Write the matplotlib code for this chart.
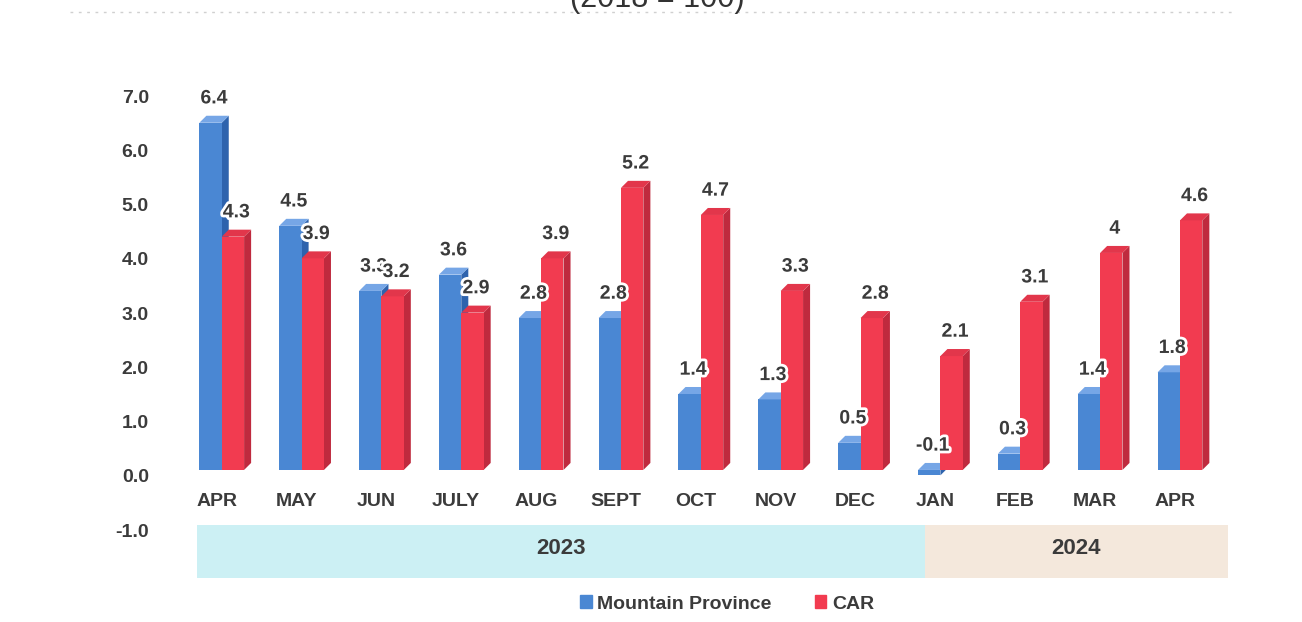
import matplotlib
matplotlib.use("Agg")
import matplotlib.pyplot as plt
import numpy as np
from matplotlib.patches import Polygon, Rectangle, Patch
from matplotlib.lines import Line2D
from matplotlib.transforms import ScaledTranslation
import matplotlib.patheffects as pe

plt.rcParams['font.family'] = ['Liberation Sans', 'DejaVu Sans']

months = ["APR", "MAY", "JUN", "JULY", "AUG", "SEPT", "OCT", "NOV", "DEC",
          "JAN", "FEB", "MAR", "APR"]
mountain = [6.4, 4.5, 3.3, 3.6, 2.8, 2.8, 1.4, 1.3, 0.5, -0.1, 0.3, 1.4, 1.8]
car = [4.3, 3.9, 3.2, 2.9, 3.9, 5.2, 4.7, 3.3, 2.8, 2.1, 3.1, 4.0, 4.6]
car_labels = ["4.3", "3.9", "3.2", "2.9", "3.9", "5.2", "4.7", "3.3", "2.8",
              "2.1", "3.1", "4", "4.6"]
years = ["2023", "2024"]
yticks = [-1.0, 0.0, 1.0, 2.0, 3.0, 4.0, 5.0, 6.0, 7.0]

TXT = "#3b3b3b"
BLUE = ("#4a87d3", "#76a6e6", "#2e63ad")   # front, top, side
RED = ("#f23b50", "#e2364b", "#bf2a3e")

fig = plt.figure(figsize=(13.02, 6.22), dpi=100)
ax = fig.add_axes([0.1335, 0.0613, 0.8157, 0.8373])
ax.set_xlim(-0.6, 12.7)
ax.set_ylim(-2.1, 7.5)
for s in ax.spines.values():
    s.set_visible(False)
ax.set_xticks([])

x = np.arange(len(months))
w = 0.28
dx, dy = 0.088, 0.129


def bar3d(xl, v, cols, z):
    ax.bar(xl, v, width=w, align='edge', color=cols[0], zorder=z, linewidth=0)
    top = max(v, 0)
    bot = min(v, 0)
    # top face
    ax.add_patch(Polygon([(xl, top), (xl + w, top), (xl + w + dx, top + dy),
                          (xl + dx, top + dy)], closed=True, color=cols[1],
                         zorder=z, linewidth=0))
    # side face
    ax.add_patch(Polygon([(xl + w, bot), (xl + w + dx, bot + dy),
                          (xl + w + dx, top + dy), (xl + w, top)], closed=True,
                         color=cols[2], zorder=z - 0.5, linewidth=0))


glow = [pe.withStroke(linewidth=4, foreground="white")]
for i in range(len(months)):
    bar3d(x[i] - w, mountain[i], BLUE, 2 + i * 0.01)
    bar3d(x[i], car[i], RED, 3 + i * 0.01)

for i in range(len(months)):
    vb = max(mountain[i], 0)
    ax.annotate(f"{mountain[i]}", (x[i] - w / 2 + dx / 2, vb + dy), xytext=(0, 6),
                textcoords="offset points", ha="center", va="bottom",
                fontsize=14, fontweight="bold", color=TXT, zorder=10,
                path_effects=glow)
    ax.annotate(car_labels[i], (x[i] + w / 2 + dx / 2, car[i] + dy), xytext=(0, 6),
                textcoords="offset points", ha="center", va="bottom",
                fontsize=14, fontweight="bold", color=TXT, zorder=11,
                path_effects=glow)

# category labels
for i, m in enumerate(months):
    ax.text(x[i] - 0.065, -0.59, m, ha="center", va="center", fontsize=14,
            fontweight="bold", color=TXT)

# year bands
bands = [(-0.313, 8.807, "#ccf0f4"), (8.807, 12.60, "#f4e8dc")]
for (a, b, c), yr in zip(bands, years):
    ax.add_patch(Rectangle((a, -1.991), b - a, 0.977, color=c, linewidth=0, zorder=1))
    ax.text((a + b) / 2, -1.44, yr, ha="center", va="center", fontsize=16,
            fontweight="bold", color=TXT, zorder=2)

# y ticks
ax.set_yticks(yticks)
ax.set_yticklabels([f"{t:.1f}" for t in yticks])
ax.tick_params(axis="y", length=0, pad=18, labelsize=14, labelcolor=TXT)
for lab in ax.get_yticklabels():
    lab.set_fontweight("bold")
    lab.set_transform(lab.get_transform() + ScaledTranslation(0, -6 / 100, fig.dpi_scale_trans))

# title (clipped at top as in source)
fig.text(657 / 1302, 1 - 7 / 622, "(2018 = 100)", ha="center", va="baseline",
         fontsize=22, color="#333333")
fig.add_artist(Line2D([70 / 1302, 1232 / 1302], [1 - 12 / 622, 1 - 12 / 622],
                      transform=fig.transFigure, color="#d0d0d0", lw=1,
                      linestyle=(0, (2, 4))))

handles = [Patch(color=BLUE[0], label="Mountain Province"),
           Patch(color=RED[0], label="CAR")]
leg = fig.legend(handles=handles, loc="center", ncol=2,
                 bbox_to_anchor=(727 / 1302, 1 - 604 / 622), frameon=False,
                 handlelength=0.6, handleheight=0.6, handletextpad=0.3,
                 columnspacing=2.2, prop={"size": 14, "weight": "bold"})
for t in leg.get_texts():
    t.set_color(TXT)

fig.savefig("out.png", dpi=100)
